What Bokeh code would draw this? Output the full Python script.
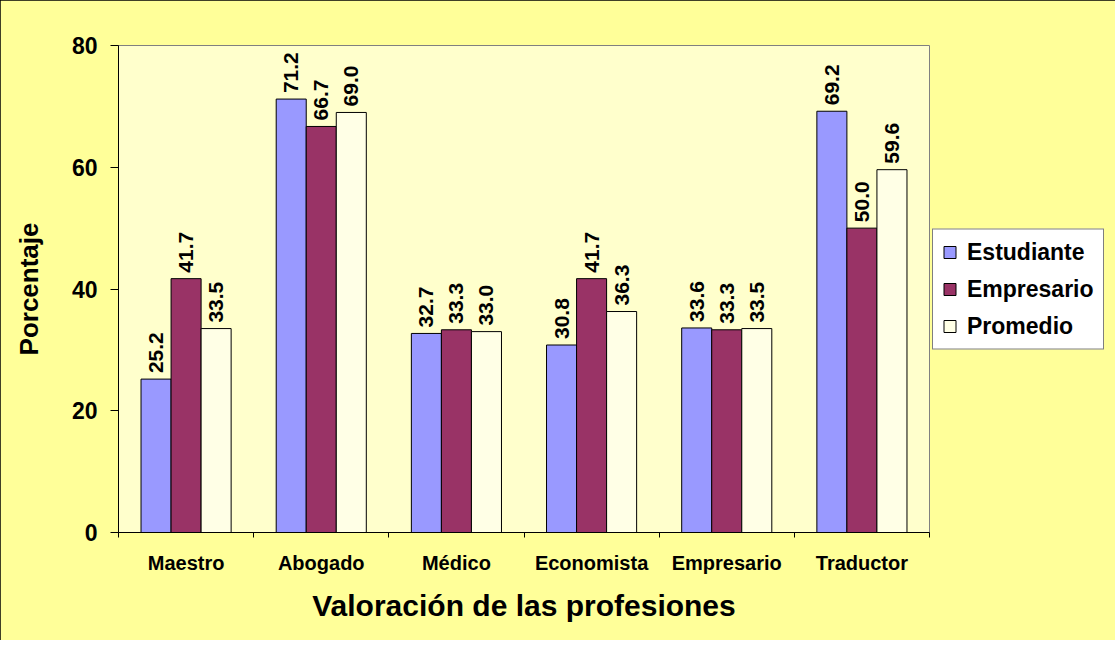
import math
from bokeh.plotting import figure
from bokeh.models import (Range1d, LinearAxis, FixedTicker, ColumnDataSource,
                          Legend, LegendItem)
from bokeh.transform import dodge
from bokeh.core.properties import value
from bokeh.embed import file_html
from bokeh.resources import INLINE

categories = ["Maestro", "Abogado", "Médico", "Economista", "Empresario", "Traductor"]
estudiante = [25.2, 71.2, 32.7, 30.8, 33.6, 69.2]
empresario = [41.7, 66.7, 33.3, 41.7, 33.3, 50.0]
promedio = [33.5, 69.0, 33.0, 36.3, 33.5, 59.6]
series_names = ["Estudiante", "Empresario", "Promedio"]
y_ticks = [0, 20, 40, 60, 80]

FN = "Liberation Sans"
FONT = value(FN)
colors = ["#9999FF", "#993366", "#FFFFE6"]
bw = 1 / 4.5

n = len(categories)
src = ColumnDataSource(dict(
    xc=[i + 0.5 for i in range(n)],
    est=estudiante, emp=empresario, pro=promedio,
    est_l=["%.1f" % v for v in estudiante],
    emp_l=["%.1f" % v for v in empresario],
    pro_l=["%.1f" % v for v in promedio],
))

p = figure(frame_width=811, frame_height=487,
           x_range=Range1d(0, n), y_range=Range1d(0, 80),
           output_backend="svg", toolbar_location=None, title=None,
           min_border_left=118, min_border_top=45, min_border_right=168,
           min_border_bottom=108)
p.border_fill_color = "#FFFF99"
p.background_fill_color = "#FFFFCC"
p.outline_line_color = "#808080"
p.outline_line_width = 1
p.xgrid.visible = False
p.ygrid.visible = False
p.styles = {"outline": "1px solid black", "outline-offset": "-1px"}

# Y axis
ya = p.yaxis[0]
ya.ticker = FixedTicker(ticks=y_ticks)
ya.major_tick_out = 8
ya.major_tick_in = 0
ya.minor_tick_line_color = None
ya.axis_line_color = "black"
ya.major_tick_line_color = "black"
ya.major_label_text_font = FN
ya.major_label_text_font_style = "bold"
ya.major_label_text_font_size = "23px"
ya.major_label_text_color = "black"
ya.major_label_standoff = 13
ya.axis_label = "Porcentaje"
ya.axis_label_text_font = FN
ya.axis_label_text_font_style = "bold"
ya.axis_label_text_font_size = "26px"
ya.axis_label_text_color = "black"
ya.axis_label_standoff = 25

# X axis: boundary ticks
xa = p.xaxis[0]
xa.ticker = FixedTicker(ticks=list(range(n + 1)))
xa.major_tick_out = 5
xa.major_tick_in = 0
xa.minor_tick_line_color = None
xa.axis_line_color = "black"
xa.major_tick_line_color = "black"
xa.major_label_overrides = {i: " " for i in range(n + 1)}
xa.major_label_text_font_size = "1px"
xa.major_label_standoff = 0

# X axis: category labels
xl = LinearAxis(ticker=FixedTicker(ticks=[i + 0.5 for i in range(n)]),
                major_label_overrides={i + 0.5: c for i, c in enumerate(categories)})
xl.axis_line_color = None
xl.major_tick_line_color = None
xl.minor_tick_line_color = None
xl.major_tick_out = 0
xl.major_tick_in = 0
xl.major_label_standoff = 10
xl.major_label_text_font = FN
xl.major_label_text_font_style = "bold"
xl.major_label_text_font_size = "20px"
xl.major_label_text_color = "black"
xl.axis_label = "Valoración de las profesiones"
xl.axis_label_text_font = FN
xl.axis_label_text_font_style = "bold"
xl.axis_label_text_font_size = "30px"
xl.axis_label_text_color = "black"
xl.axis_label_standoff = 12
p.add_layout(xl, "below")

renderers = []
for k, (col, lab, off) in enumerate([("est", "est_l", -bw), ("emp", "emp_l", 0.0),
                                      ("pro", "pro_l", bw)]):
    r = p.vbar(x=dodge("xc", off, range=p.x_range), top=col, bottom=0, width=bw,
               source=src, fill_color=colors[k], line_color="black", line_width=1)
    renderers.append(r)
    p.text(x=dodge("xc", off, range=p.x_range), y=col, text=lab, source=src,
           angle=math.pi / 2, text_align="left", text_baseline="middle",
           y_offset=-6, text_font=FONT, text_font_style="bold",
           text_font_size="21px", text_color="black")

legend = Legend(items=[LegendItem(label=s, renderers=[r])
                       for s, r in zip(series_names, renderers)])
legend.location = "left"
legend.margin = 3
legend.padding = 9
legend.spacing = 10
legend.label_height = 24
legend.glyph_width = 15
legend.glyph_height = 15
legend.label_standoff = 10
legend.label_text_font = FN
legend.label_text_font_style = "bold"
legend.label_text_font_size = "23px"
legend.label_text_color = "black"
legend.background_fill_color = "white"
legend.background_fill_alpha = 1
legend.border_line_color = "black"
legend.border_line_width = 1
p.add_layout(legend, "right")

open("out.html", "w").write(file_html(p, INLINE))
